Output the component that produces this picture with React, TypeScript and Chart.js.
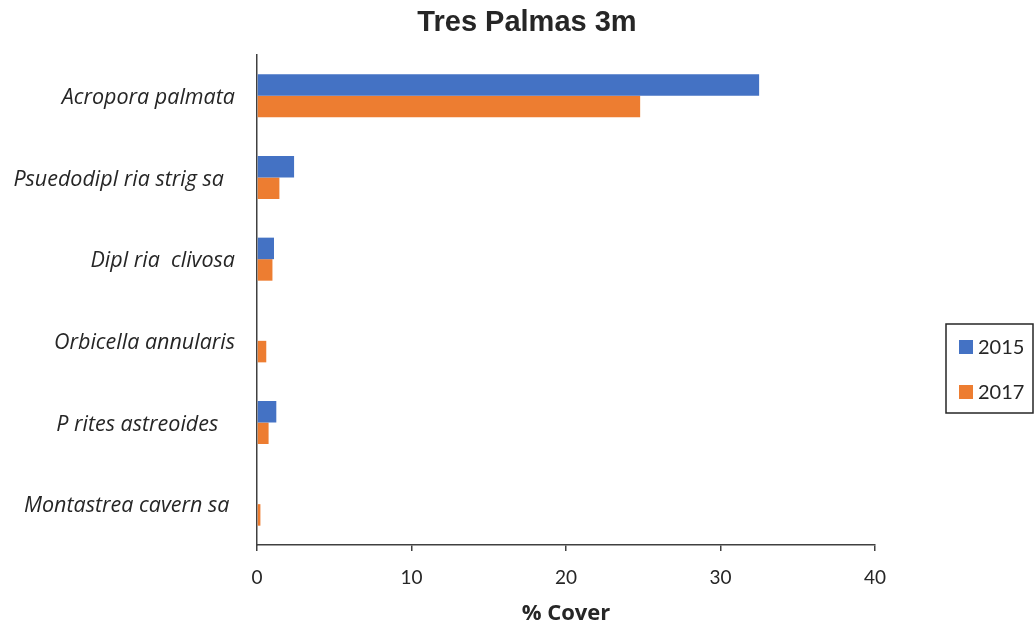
import React, { useEffect, useRef } from "react";
import { Chart, registerables } from "chart.js";

Chart.register(...registerables);

const categories = [
  "Acropora palmata",
  "Psuedodipl ria strig sa  ",
  "Dipl ria  clivosa",
  "Orbicella annularis",
  "P rites astreoides   ",
  "Montastrea cavern sa ",
];
const series2015 = [32.5, 2.4, 1.1, 0, 1.25, 0];
const series2017 = [24.8, 1.45, 1.0, 0.6, 0.75, 0.22];
const seriesNames = ["2015", "2017"];
const xTicks = [0, 10, 20, 30, 40];
const chartTitle = "Tres Palmas 3m";
const xTitle = "% Cover";

const BLUE = "#4472C4";
const ORANGE = "#ED7D31";
const AXIS = "#404040";
const TEXT = "#262626";
const LABEL_FONT = "Lato, 'Open Sans', sans-serif";
const CAT_FONT = "'Open Sans', Lato, sans-serif";

const overlayPlugin = {
  id: "overlay",
  afterDraw(chart: any) {
    const ctx = chart.ctx;
    ctx.save();
    // title
    ctx.fillStyle = TEXT;
    ctx.font = "bold 29px 'Liberation Sans', Arial, sans-serif";
    ctx.textAlign = "center";
    ctx.textBaseline = "middle";
    ctx.fillText(chartTitle, 527, 23);
    // legend
    const bx = 946, by = 324, bw = 87, bh = 89;
    ctx.strokeStyle = "#262626";
    ctx.lineWidth = 1.5;
    ctx.strokeRect(bx, by, bw, bh);
    const rows = [347, 392];
    chart.data.datasets.forEach((ds: any, i: number) => {
      ctx.fillStyle = ds.backgroundColor;
      ctx.fillRect(959, rows[i] - 7, 14, 14);
      ctx.fillStyle = TEXT;
      ctx.font = "20px " + LABEL_FONT;
      ctx.textAlign = "left";
      ctx.textBaseline = "middle";
      ctx.fillText(ds.label, 978, rows[i] + 1);
    });
    ctx.restore();
  },
};

export default function App() {
  const ref = useRef<HTMLCanvasElement | null>(null);
  useEffect(() => {
    if (!ref.current) return;
    const chart = new Chart(ref.current, {
      type: "bar",
      data: {
        labels: categories,
        datasets: [
          { label: seriesNames[0], data: series2015, backgroundColor: BLUE },
          { label: seriesNames[1], data: series2017, backgroundColor: ORANGE },
        ],
      },
      options: {
        indexAxis: "y",
        responsive: false,
        animation: false,
        maintainAspectRatio: false,
        layout: { padding: { top: 55, right: 159, left: 0, bottom: 0 } },
        datasets: { bar: { categoryPercentage: 0.527, barPercentage: 1 } },
        plugins: {
          legend: { display: false },
          title: { display: false },
          tooltip: { enabled: false },
        },
        scales: {
          x: {
            min: 0,
            max: 40,
            afterFit(scale: any) {
              scale.height = 84;
            },
            afterBuildTicks(scale: any) {
              scale.ticks = xTicks.map((v) => ({ value: v }));
            },
            grid: {
              drawOnChartArea: false,
              drawTicks: true,
              tickLength: 6,
              color: AXIS,
              lineWidth: 1.5,
            },
            border: { color: AXIS, width: 1.5 },
            ticks: {
              color: TEXT,
              font: { family: LABEL_FONT, size: 19 },
              padding: 15,
              maxRotation: 0,
            },
            title: {
              display: true,
              text: xTitle,
              color: TEXT,
              font: { family: CAT_FONT, size: 22, weight: "bold" },
              padding: { top: 0, bottom: 2 },
            },
          },
          y: {
            afterFit(scale: any) {
              scale.width = 257;
            },
            grid: { drawOnChartArea: false, drawTicks: false },
            border: { color: AXIS, width: 1.5 },
            ticks: {
              color: TEXT,
              font: { family: CAT_FONT, size: 21.5, style: "italic" },
              padding: 22,
              labelOffset: 2,
              autoSkip: false,
            },
          },
        },
      },
      plugins: [overlayPlugin],
    } as any);
    return () => chart.destroy();
  }, []);
  return (
    <div style={{ position: "absolute", left: 0, top: 0, width: 1034, height: 629, background: "#fff" }}>
      <canvas ref={ref} width={1034} height={629} style={{ display: "block" }} />
    </div>
  );
}
